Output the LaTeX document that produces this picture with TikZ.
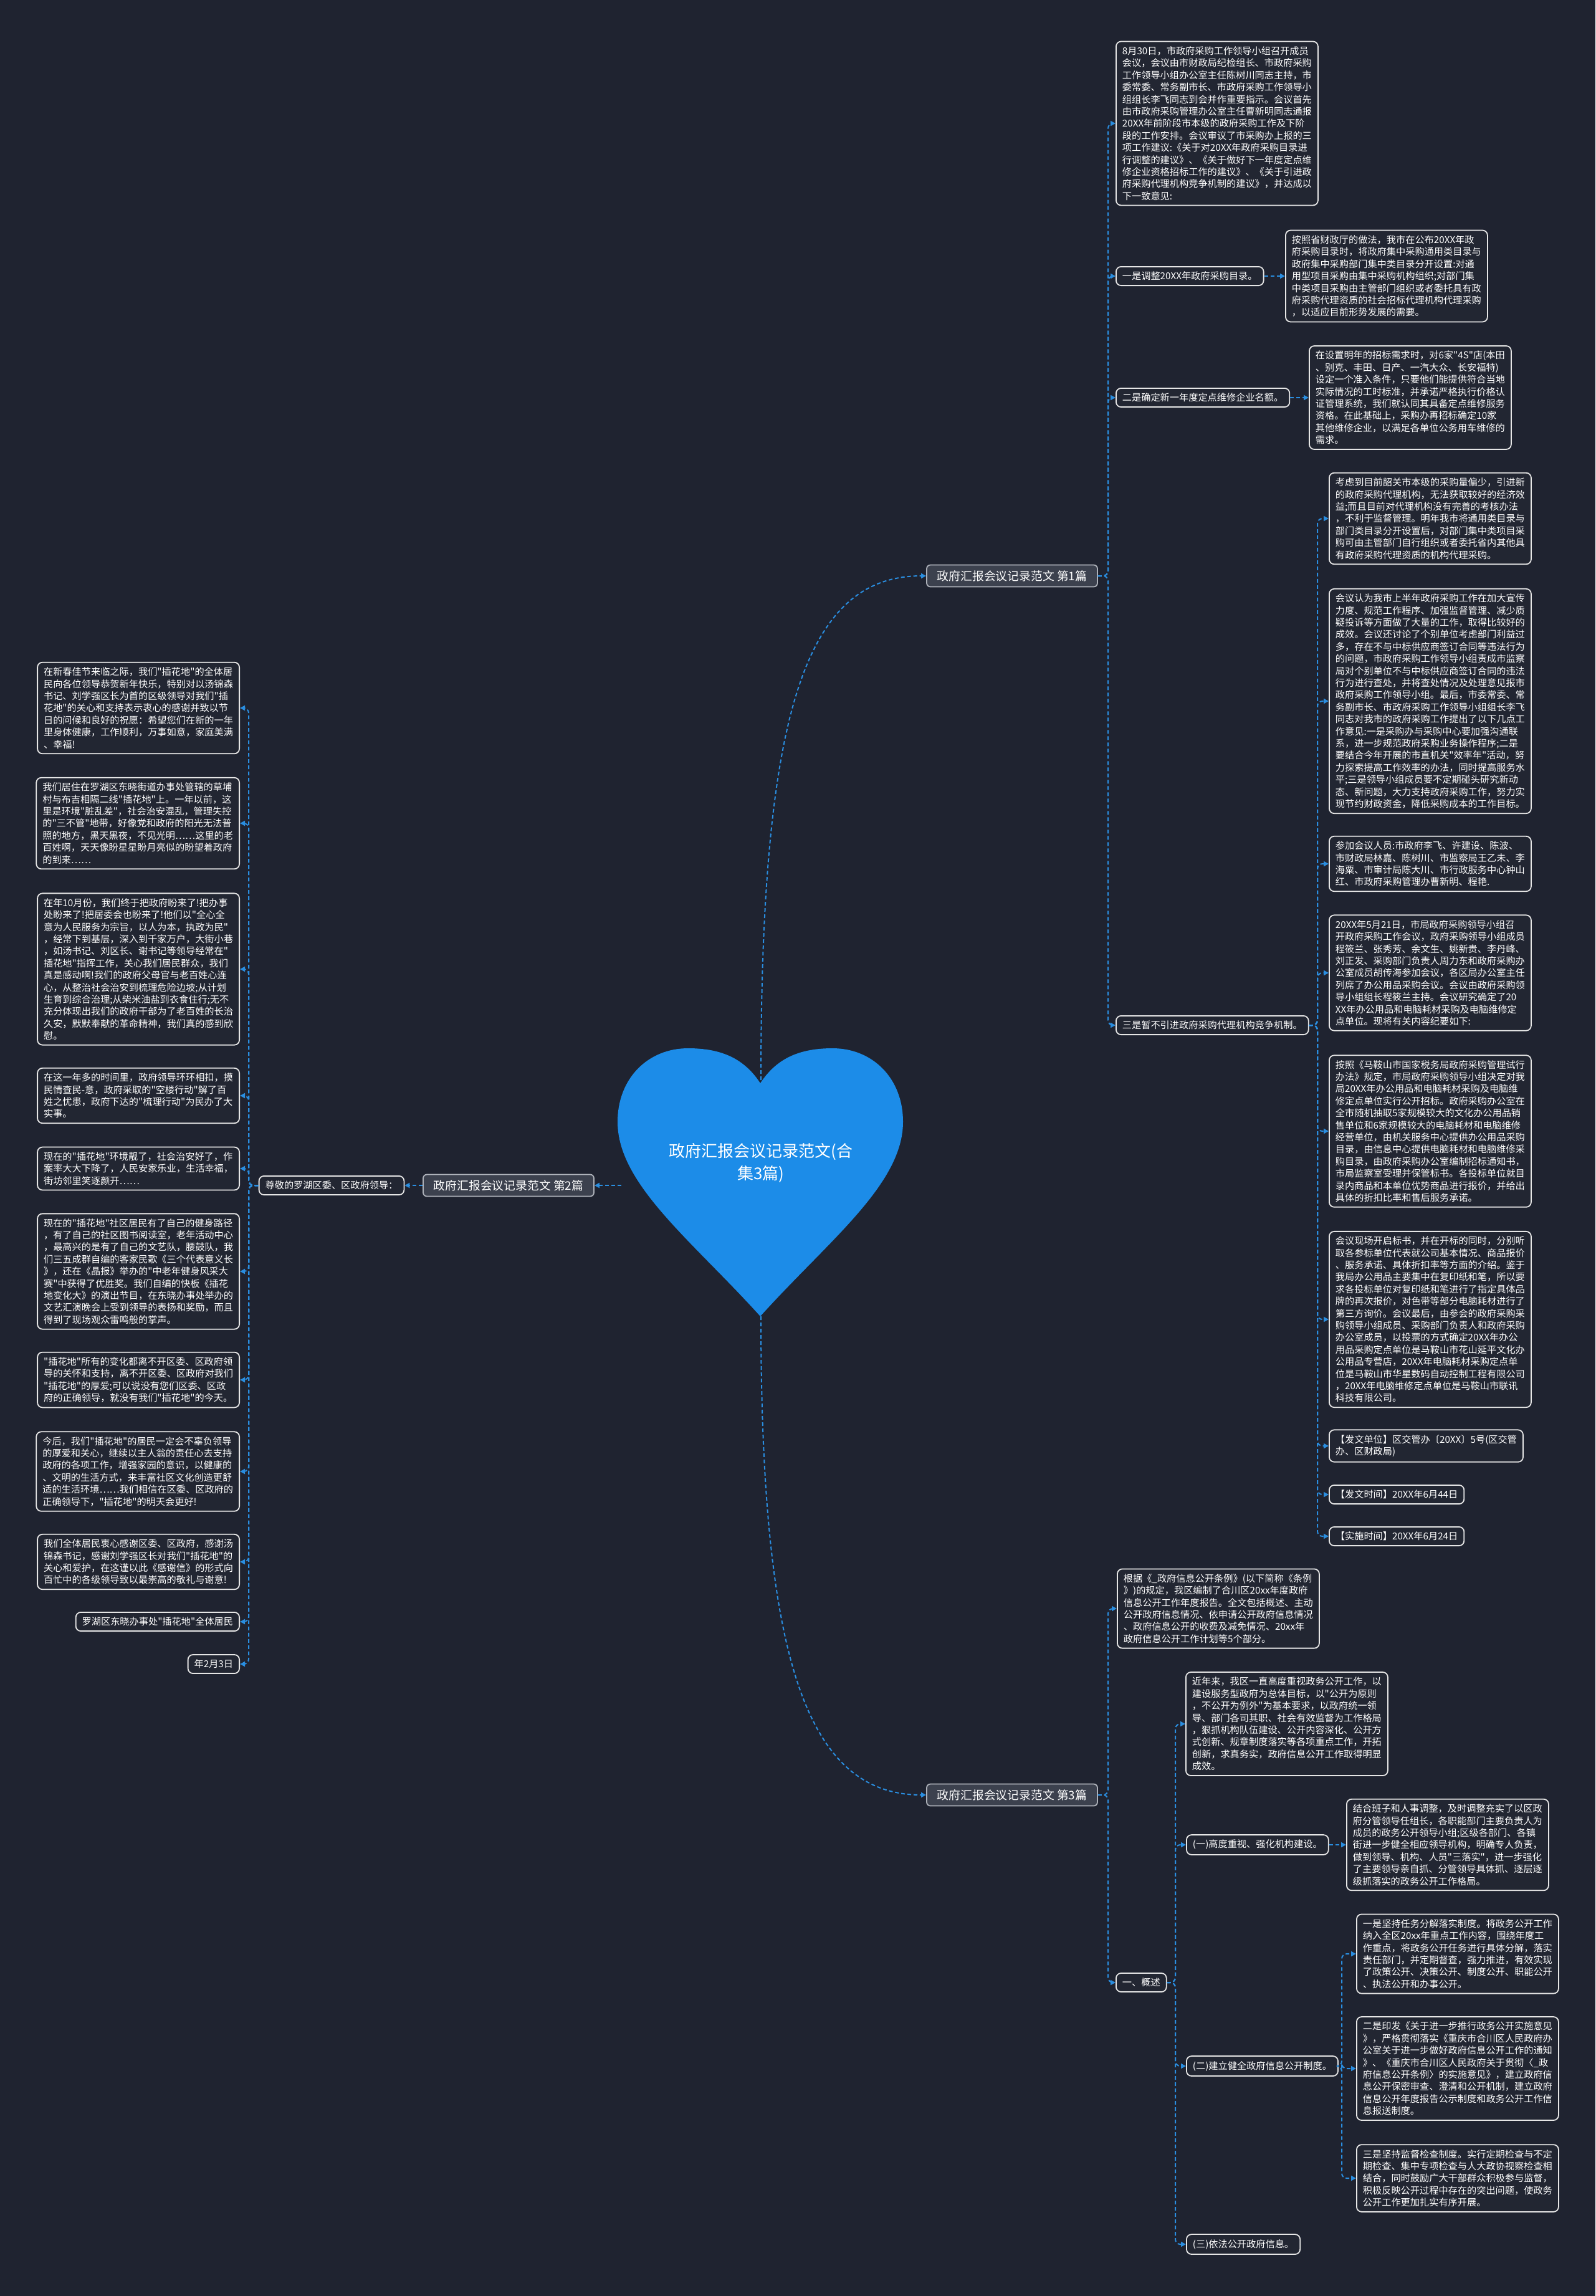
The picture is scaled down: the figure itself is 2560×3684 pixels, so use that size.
\documentclass[tikz,border=0pt]{standalone}
\usepackage{fontspec}
\newfontfamily\cjkf{Noto Sans CJK SC}
\usetikzlibrary{arrows.meta}
\definecolor{bg}{HTML}{1F2330}
\definecolor{boxfill}{HTML}{222632}
\definecolor{boxline}{HTML}{E6E6E6}
\definecolor{lineblue}{HTML}{2A8EE0}
\definecolor{heartblue}{HTML}{1C8CE8}
\definecolor{branchfill}{HTML}{3C414E}
\definecolor{branchline}{HTML}{AEB2BA}
\tikzset{
  txt/.style={draw=boxline, line width=0.9pt, rounded corners=4pt, fill=boxfill, text=white,
    align=left, inner xsep=5pt, inner ysep=4pt, font=\cjkf\fontsize{7.6pt}{9.7pt}\selectfont},
  branch/.style={draw=branchline, line width=0.9pt, rounded corners=3pt, fill=branchfill, text=white,
    font=\cjkf\fontsize{9.4pt}{11pt}\selectfont, minimum width=137pt, minimum height=17.5pt, inner sep=2pt},
  conn/.style={draw=lineblue, line width=1pt, dash pattern=on 3pt off 2pt,
    -{Triangle[length=4pt,width=4pt]}, rounded corners=4pt}
}
\begin{document}
\begin{tikzpicture}[x=0.5pt,y=-0.5pt]
\useasboundingbox (0,0) rectangle (2560,3684);
\fill[bg] (0,0) rectangle (2560,3684);

% trunk coordinates
\coordinate (t1) at (1778,0);
\coordinate (td) at (2114,0);
\coordinate (tl) at (399,0);
\coordinate (t3) at (1886,0);
\coordinate (t3b) at (2153,0);

% heart
\fill[heartblue] (1220,1738) .. controls (1195,1700) and (1160,1682) .. (1104,1682)
  .. controls (1040,1682) and (991,1730) .. (991,1800)
  .. controls (991,1900) and (1110,1990) .. (1220,2112)
  .. controls (1330,1990) and (1449,1900) .. (1449,1800)
  .. controls (1449,1730) and (1400,1682) .. (1336,1682)
  .. controls (1280,1682) and (1245,1700) .. (1220,1738) -- cycle;
\node[text=white, align=center, font=\cjkf\fontsize{13pt}{18pt}\selectfont] (heart) at (1221,1866) {政府汇报会议记录范文(合\\集3篇)};
\coordinate (htop) at (1221,1733);
\coordinate (hbot) at (1221,2112);
\coordinate (hleft) at (997,1902);

% branches
\node[branch] (b1) at (1624,924) {政府汇报会议记录范文 第1篇};
\node[branch] (b2) at (816,1902) {政府汇报会议记录范文 第2篇};
\node[branch] (b3) at (1624,2880) {政府汇报会议记录范文 第3篇};

% ---------- branch 1 ----------
\node[txt, anchor=west] (p1) at (1790,198) {8月30日，市政府采购工作领导小组召开成员\\会议，会议由市财政局纪检组长、市政府采购\\工作领导小组办公室主任陈树川同志主持，市\\委常委、常务副市长、市政府采购工作领导小\\组组长李飞同志到会并作重要指示。会议首先\\由市政府采购管理办公室主任曹新明同志通报\\20XX年前阶段市本级的政府采购工作及下阶\\段的工作安排。会议审议了市采购办上报的三\\项工作建议:《关于对20XX年政府采购目录进\\行调整的建议》、《关于做好下一年度定点维\\修企业资格招标工作的建议》、《关于引进政\\府采购代理机构竞争机制的建议》，并达成以\\下一致意见:};
\node[txt, anchor=west] (a1) at (1790,443) {一是调整20XX年政府采购目录。};
\node[txt, anchor=west] (a2) at (2062,443) {按照省财政厅的做法，我市在公布20XX年政\\府采购目录时，将政府集中采购通用类目录与\\政府集中采购部门集中类目录分开设置:对通\\用型项目采购由集中采购机构组织;对部门集\\中类项目采购由主管部门组织或者委托具有政\\府采购代理资质的社会招标代理机构代理采购\\，以适应目前形势发展的需要。};
\node[txt, anchor=west] (c1) at (1790,638) {二是确定新一年度定点维修企业名额。};
\node[txt, anchor=west] (c2) at (2100,638) {在设置明年的招标需求时，对6家"4S"店(本田\\、别克、丰田、日产、一汽大众、长安福特)\\设定一个准入条件，只要他们能提供符合当地\\实际情况的工时标准，并承诺严格执行价格认\\证管理系统，我们就认同其具备定点维修服务\\资格。在此基础上，采购办再招标确定10家\\其他维修企业，以满足各单位公务用车维修的\\需求。};
\node[txt, anchor=west] (d0) at (1790,1645) {三是暂不引进政府采购代理机构竞争机制。};

\node[txt, anchor=west] (d1) at (2132,832) {考虑到目前韶关市本级的采购量偏少，引进新\\的政府采购代理机构，无法获取较好的经济效\\益;而且目前对代理机构没有完善的考核办法\\，不利于监督管理。明年我市将通用类目录与\\部门类目录分开设置后，对部门集中类项目采\\购可由主管部门自行组织或者委托省内其他具\\有政府采购代理资质的机构代理采购。};
\node[txt, anchor=west] (d2) at (2132,1125) {会议认为我市上半年政府采购工作在加大宣传\\力度、规范工作程序、加强监督管理、减少质\\疑投诉等方面做了大量的工作，取得比较好的\\成效。会议还讨论了个别单位考虑部门利益过\\多，存在不与中标供应商签订合同等违法行为\\的问题，市政府采购工作领导小组责成市监察\\局对个别单位不与中标供应商签订合同的违法\\行为进行查处，并将查处情况及处理意见报市\\政府采购工作领导小组。最后，市委常委、常\\务副市长、市政府采购工作领导小组组长李飞\\同志对我市的政府采购工作提出了以下几点工\\作意见:一是采购办与采购中心要加强沟通联\\系，进一步规范政府采购业务操作程序;二是\\要结合今年开展的市直机关"效率年"活动，努\\力探索提高工作效率的办法，同时提高服务水\\平;三是领导小组成员要不定期碰头研究新动\\态、新问题，大力支持政府采购工作，努力实\\现节约财政资金，降低采购成本的工作目标。};
\node[txt, anchor=west] (d3) at (2132,1386) {参加会议人员:市政府李飞、许建设、陈波、\\市财政局林嘉、陈树川、市监察局王乙未、李\\海粟、市审计局陈大川、市行政服务中心钟山\\红、市政府采购管理办曹新明、程艳.};
\node[txt, anchor=west] (d4) at (2132,1561) {20XX年5月21日，市局政府采购领导小组召\\开政府采购工作会议，政府采购领导小组成员\\程筱兰、张秀芳、余文生、姚新贵、李丹峰、\\刘正发、采购部门负责人周力东和政府采购办\\公室成员胡传海参加会议，各区局办公室主任\\列席了办公用品采购会议。会议由政府采购领\\导小组组长程筱兰主持。会议研究确定了20\\XX年办公用品和电脑耗材采购及电脑维修定\\点单位。现将有关内容纪要如下:};
\node[txt, anchor=west] (d5) at (2132,1815) {按照《马鞍山市国家税务局政府采购管理试行\\办法》规定，市局政府采购领导小组决定对我\\局20XX年办公用品和电脑耗材采购及电脑维\\修定点单位实行公开招标。政府采购办公室在\\全市随机抽取5家规模较大的文化办公用品销\\售单位和6家规模较大的电脑耗材和电脑维修\\经营单位，由机关服务中心提供办公用品采购\\目录，由信息中心提供电脑耗材和电脑维修采\\购目录，由政府采购办公室编制招标通知书，\\市局监察室受理并保管标书。各投标单位就目\\录内商品和本单位优势商品进行报价，并给出\\具体的折扣比率和售后服务承诺。};
\node[txt, anchor=west] (d6) at (2132,2117) {会议现场开启标书，并在开标的同时，分别听\\取各参标单位代表就公司基本情况、商品报价\\、服务承诺、具体折扣率等方面的介绍。鉴于\\我局办公用品主要集中在复印纸和笔，所以要\\求各投标单位对复印纸和笔进行了指定具体品\\牌的再次报价，对色带等部分电脑耗材进行了\\第三方询价。会议最后，由参会的政府采购采\\购领导小组成员、采购部门负责人和政府采购\\办公室成员，以投票的方式确定20XX年办公\\用品采购定点单位是马鞍山市花山延平文化办\\公用品专营店，20XX年电脑耗材采购定点单\\位是马鞍山市华星数码自动控制工程有限公司\\，20XX年电脑维修定点单位是马鞍山市联讯\\科技有限公司。};
\node[txt, anchor=west] (d7) at (2132,2320) {【发文单位】区交管办〔20XX〕5号(区交管\\办、区财政局)};
\node[txt, anchor=west] (d8) at (2132,2398) {【发文时间】20XX年6月44日};
\node[txt, anchor=west] (d9) at (2132,2465) {【实施时间】20XX年6月24日};

% ---------- branch 2 ----------
\node[txt] (greet) at (532,1902) {尊敬的罗湖区委、区政府领导：};
\node[txt, anchor=east] (L1) at (385,1136) {在新春佳节来临之际，我们"插花地"的全体居\\民向各位领导恭贺新年快乐，特别对以汤锦森\\书记、刘学强区长为首的区级领导对我们"插\\花地"的关心和支持表示衷心的感谢并致以节\\日的问候和良好的祝愿：希望您们在新的一年\\里身体健康，工作顺利，万事如意，家庭美满\\、幸福!};
\node[txt, anchor=east] (L2) at (385,1321) {我们居住在罗湖区东晓街道办事处管辖的草埔\\村与布吉相隔二线"插花地"上。一年以前，这\\里是环境"脏乱差"，社会治安混乱，管理失控\\的"三不管"地带，好像党和政府的阳光无法普\\照的地方，黑天黑夜，不见光明……这里的老\\百姓啊，天天像盼星星盼月亮似的盼望着政府\\的到来……};
\node[txt, anchor=east] (L3) at (385,1555) {在年10月份，我们终于把政府盼来了!把办事\\处盼来了!把居委会也盼来了!他们以"全心全\\意为人民服务为宗旨，以人为本，执政为民"\\，经常下到基层，深入到千家万户，大街小巷\\，如汤书记、刘区长、谢书记等领导经常在"\\插花地"指挥工作，关心我们居民群众，我们\\真是感动啊!我们的政府父母官与老百姓心连\\心，从整治社会治安到梳理危险边坡;从计划\\生育到综合治理;从柴米油盐到衣食住行;无不\\充分体现出我们的政府干部为了老百姓的长治\\久安，默默奉献的革命精神，我们真的感到欣\\慰。};
\node[txt, anchor=east] (L4) at (385,1758) {在这一年多的时间里，政府领导环环相扣，摸\\民情查民-意，政府采取的"空楼行动"解了百\\姓之忧患，政府下达的"梳理行动"为民办了大\\实事。};
\node[txt, anchor=east] (L5) at (385,1875) {现在的"插花地"环境靓了，社会治安好了，作\\案率大大下降了，人民安家乐业，生活幸福，\\街坊邻里笑逐颜开……};
\node[txt, anchor=east] (L6) at (385,2040) {现在的"插花地"社区居民有了自己的健身路径\\，有了自己的社区图书阅读室，老年活动中心\\，最高兴的是有了自己的文艺队，腰鼓队，我\\们三五成群自编的客家民歌《三个代表意义长\\》，还在《晶报》举办的"中老年健身风采大\\赛"中获得了优胜奖。我们自编的快板《插花\\地变化大》的演出节目，在东晓办事处举办的\\文艺汇演晚会上受到领导的表扬和奖励，而且\\得到了现场观众雷鸣般的掌声。};
\node[txt, anchor=east] (L7) at (385,2214) {"插花地"所有的变化都离不开区委、区政府领\\导的关怀和支持，离不开区委、区政府对我们\\"插花地"的厚爱;可以说没有您们区委、区政\\府的正确领导，就没有我们"插花地"的今天。};
\node[txt, anchor=east] (L8) at (385,2361) {今后，我们"插花地"的居民一定会不辜负领导\\的厚爱和关心，继续以主人翁的责任心去支持\\政府的各项工作，增强家园的意识，以健康的\\、文明的生活方式，来丰富社区文化创造更舒\\适的生活环境……我们相信在区委、区政府的\\正确领导下，"插花地"的明天会更好!};
\node[txt, anchor=east] (L9) at (385,2506) {我们全体居民衷心感谢区委、区政府，感谢汤\\锦森书记，感谢刘学强区长对我们"插花地"的\\关心和爱护，在这谨以此《感谢信》的形式向\\百忙中的各级领导致以最崇高的敬礼与谢意!};
\node[txt, anchor=east] (L10) at (385,2602) {罗湖区东晓办事处"插花地"全体居民};
\node[txt, anchor=east] (L11) at (385,2670) {年2月3日};

% ---------- branch 3 ----------
\node[txt, anchor=west] (g1) at (1792,2581) {根据《\_政府信息公开条例》(以下简称《条例\\》)的规定，我区编制了合川区20xx年度政府\\信息公开工作年度报告。全文包括概述、主动\\公开政府信息情况、依申请公开政府信息情况\\、政府信息公开的收费及减免情况、20xx年\\政府信息公开工作计划等5个部分。};
\node[txt, anchor=west] (o1) at (1790,3181) {一、概述};
\node[txt, anchor=west] (n1) at (1902,2766) {近年来，我区一直高度重视政务公开工作，以\\建设服务型政府为总体目标，以"公开为原则\\，不公开为例外"为基本要求，以政府统一领\\导、部门各司其职、社会有效监督为工作格局\\，狠抓机构队伍建设、公开内容深化、公开方\\式创新、规章制度落实等各项重点工作，开拓\\创新，求真务实，政府信息公开工作取得明显\\成效。};
\node[txt, anchor=west] (k1) at (1903,2960) {(一)高度重视、强化机构建设。};
\node[txt, anchor=west] (k1c) at (2160,2960) {结合班子和人事调整，及时调整充实了以区政\\府分管领导任组长，各职能部门主要负责人为\\成员的政务公开领导小组;区级各部门、各镇\\街进一步健全相应领导机构，明确专人负责，\\做到领导、机构、人员"三落实"，进一步强化\\了主要领导亲自抓、分管领导具体抓、逐层逐\\级抓落实的政务公开工作格局。};
\node[txt, anchor=west] (k2) at (1903,3315) {(二)建立健全政府信息公开制度。};
\node[txt, anchor=west] (m1) at (2176,3135) {一是坚持任务分解落实制度。将政务公开工作\\纳入全区20xx年重点工作内容，围绕年度工\\作重点，将政务公开任务进行具体分解，落实\\责任部门，并定期督查，强力推进，有效实现\\了政策公开、决策公开、制度公开、职能公开\\、执法公开和办事公开。};
\node[txt, anchor=west] (m2) at (2176,3319) {二是印发《关于进一步推行政务公开实施意见\\》，严格贯彻落实《重庆市合川区人民政府办\\公室关于进一步做好政府信息公开工作的通知\\》、《重庆市合川区人民政府关于贯彻〈\_政\\府信息公开条例〉的实施意见》，建立政府信\\息公开保密审查、澄清和公开机制，建立政府\\信息公开年度报告公示制度和政务公开工作信\\息报送制度。};
\node[txt, anchor=west] (m3) at (2176,3495) {三是坚持监督检查制度。实行定期检查与不定\\期检查、集中专项检查与人大政协视察检查相\\结合，同时鼓励广大干部群众积极参与监督，\\积极反映公开过程中存在的突出问题，使政务\\公开工作更加扎实有序开展。};
\node[txt, anchor=west] (k3) at (1903,3601) {(三)依法公开政府信息。};

% ---------- connectors ----------
\draw[conn] (htop) .. controls (1221,1150) and (1290,924) .. (b1.west);
\draw[conn] (hbot) .. controls (1221,2650) and (1290,2880) .. (b3.west);
\draw[conn] (hleft) -- (b2.east);
\draw[conn] (b2.west) -- (greet.east);

\foreach \n in {p1,a1,c1,d0} \draw[conn] (b1.east) -- (b1.east -| t1) |- (\n.west);
\draw[conn] (a1.east) -- (a2.west);
\draw[conn] (c1.east) -- (c2.west);
\foreach \n in {d1,d2,d3,d4,d5,d6,d7,d8,d9} \draw[conn] (d0.east) -- (d0.east -| td) |- (\n.west);

\foreach \n in {L1,L2,L3,L4,L5,L6,L7,L8,L9,L10,L11} \draw[conn] (greet.west) -- (greet.west -| tl) |- (\n.east);

\foreach \n in {g1,o1} \draw[conn] (b3.east) -- (b3.east -| t1) |- (\n.west);
\foreach \n in {n1,k1,k2,k3} \draw[conn] (o1.east) -- (o1.east -| t3) |- (\n.west);
\draw[conn] (k1.east) -- (k1c.west);
\foreach \n in {m1,m2,m3} \draw[conn] (k2.east) -- (k2.east -| t3b) |- (\n.west);
\end{tikzpicture}
\end{document}
